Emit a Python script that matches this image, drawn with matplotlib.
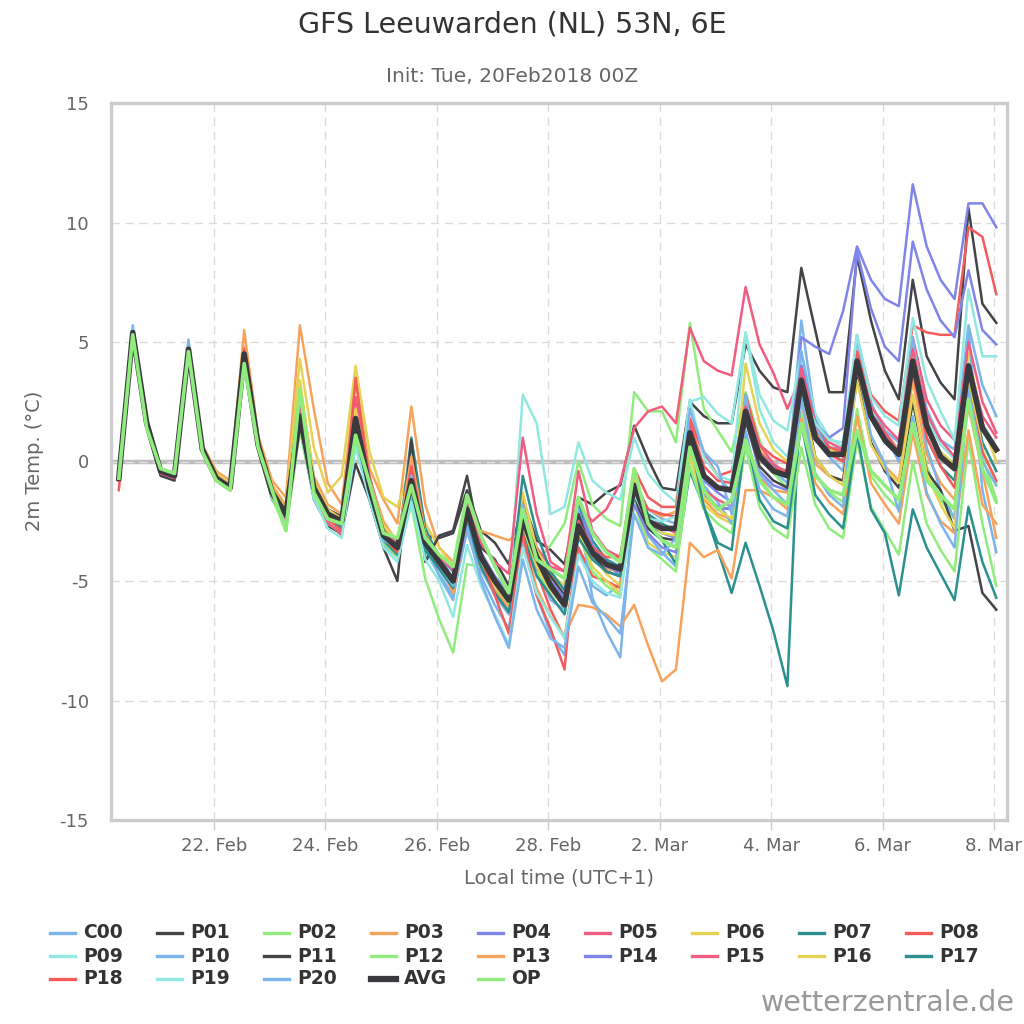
import matplotlib
matplotlib.use("Agg")
import matplotlib.pyplot as plt
from matplotlib.lines import Line2D
from datetime import datetime, timedelta

plt.rcParams['font.family'] = ['DejaVu Sans']
plt.rcParams['axes.unicode_minus'] = False

# 6-hourly steps, first step 20Feb 06Z = 07:00 local (UTC+1)
start = datetime(2018, 2, 20, 7)
step_hours = 6
n_steps = 64
times = [start + timedelta(hours=step_hours * i) for i in range(n_steps)]

c00 = [-0.8, 5.7, 1.9, -0.4, -0.6, 5.1, 0.6, -0.7, -1.0, 4.4, 0.6, -1.6, -2.5, 3.3, -1.3, -2.3,
       -2.8, 1.3, -1.4, -3.5, -3.9, -1.4, -3.8, -4.7, -5.6, -2.9, -4.8, -6.0, -7.0, -3.4, -5.6, -7.2,
       -8.1, -3.6, -5.2, -5.6, -5.1, -0.8, -2.0, -2.4, -2.6, 1.8, 0.4, -0.6, -1.3, 2.5, 0.3, -0.4,
       -0.9, 5.9, 1.8, 0.6, 0.5, 5.3, 2.4, 1.3, 0.8, 5.0, 2.2, 0.9, 0.5, 5.7, 3.2, 1.9]
p01 = [-0.7, 5.3, 1.7, -0.5, -0.7, 4.6, 0.6, -0.6, -1.1, 4.6, 0.8, -1.1, -2.0, 2.2, -0.8, -2.0,
       -2.3, 1.5, -1.0, -2.9, -3.3, -0.9, -3.1, -3.2, -3.0, -1.2, -2.9, -3.4, -4.3, -1.6, -3.3, -3.7,
       -4.3, -1.5, -1.8, -1.3, -1.0, 1.5, 0.1, -1.1, -1.2, 2.5, 1.9, 1.6, 1.6, 4.9, 3.8, 3.1,
       2.9, 8.1, 5.5, 2.9, 2.9, 8.6, 5.9, 3.8, 2.6, 7.6, 4.4, 3.3, 2.6, 10.6, 6.6, 5.8]
p02 = [-0.7, 5.3, 1.5, -0.4, -0.6, 4.7, 0.5, -0.7, -1.0, 4.3, 0.7, -1.2, -2.1, 2.4, -1.0, -2.1,
       -2.4, 1.4, -1.2, -3.1, -3.5, -1.2, -3.5, -4.3, -5.1, -2.2, -4.1, -5.0, -5.8, -2.8, -4.2, -3.5,
       -2.6, 0.0, -1.8, -2.4, -2.7, 2.9, 2.1, 2.1, 0.8, 5.8, 2.2, 1.3, 0.4, 2.9, 0.9, -0.5,
       -1.1, 2.1, -0.5, -1.3, -1.7, 2.2, -0.6, -1.4, -2.0, 2.6, -0.2, -1.6, -2.4, 3.2, 0.2, -1.6]
p03 = [-0.7, 5.4, 1.8, -0.3, -0.5, 4.8, 0.7, -0.4, -0.8, 5.5, 1.1, -0.8, -1.5, 5.7, 2.2, -0.9,
       -1.8, 3.4, -0.3, -1.6, -2.6, 2.3, -1.8, -3.6, -4.2, -2.9, -2.9, -3.1, -3.3, -2.9, -4.4, -4.9,
       -5.2, -2.0, -4.1, -4.5, -4.6, -1.0, -2.0, -2.3, -2.1, 0.4, -1.6, -2.2, -2.4, 1.0, -0.7, -1.2,
       -1.3, 2.5, -0.1, -0.6, -0.8, 3.6, 0.8, -0.2, -0.8, 3.4, 0.3, -0.9, -1.6, 2.3, -0.4, -3.2]
p04 = [-0.7, 5.4, 1.6, -0.4, -0.6, 4.8, 0.5, -0.7, -1.1, 4.6, 0.7, -1.3, -2.3, 2.0, -1.2, -2.4,
       -2.7, 1.5, -1.3, -3.2, -3.8, -1.0, -3.6, -4.5, -5.2, -2.5, -4.2, -5.3, -6.2, -2.2, -4.5, -5.4,
       -6.0, -2.0, -3.7, -4.4, -4.6, -1.1, -2.6, -3.0, -3.2, 1.4, -0.8, -1.3, -1.7, 1.8, -0.4, -1.0,
       -1.2, 5.2, 4.8, 4.5, 6.3, 9.0, 7.6, 6.8, 6.5, 11.6, 9.0, 7.6, 6.8, 10.8, 10.8, 9.8]
p05 = [-0.8, 5.3, 1.6, -0.4, -0.7, 4.6, 0.4, -0.8, -1.2, 4.5, 0.6, -1.4, -2.4, 1.8, -1.3, -2.5,
       -3.1, 0.8, -1.5, -3.3, -3.9, -1.4, -3.8, -4.5, -5.3, -2.5, -4.5, -5.5, -6.3, -1.5, -3.6, -4.4,
       -4.6, -1.9, -2.5, -2.0, -0.9, 1.4, 2.1, 2.3, 1.6, 5.6, 4.2, 3.8, 3.6, 7.3, 4.9, 3.7,
       2.2, 3.6, 1.4, 0.6, 0.2, 4.4, 2.4, 1.2, 0.5, 5.2, 2.6, 1.5, 0.9, 4.2, 1.9, 1.0]
p06 = [-0.7, 5.3, 1.7, -0.3, -0.5, 4.7, 0.6, -0.5, -0.9, 4.6, 0.8, -1.0, -1.8, 4.3, 0.6, -1.3,
       -0.6, 4.0, 0.4, -1.5, -1.9, -0.2, -2.6, -3.6, -4.4, -2.3, -4.1, -4.9, -5.5, -1.3, -3.7, -4.7,
       -5.2, -2.4, -3.9, -4.7, -5.2, -1.5, -3.4, -3.8, -4.0, 0.2, -1.8, -2.3, -2.6, 2.6, 0.6, -0.2,
       -0.6, 4.0, 1.2, 0.5, 0.3, 4.4, 2.0, 1.1, 0.5, 4.3, 1.4, 0.4, -0.1, 4.5, 1.6, 0.0]
p07 = [-0.7, 5.4, 1.7, -0.4, -0.6, 4.8, 0.6, -0.6, -1.0, 4.6, 0.8, -1.2, -2.1, 2.4, -1.0, -2.2,
       -2.7, 1.7, -1.3, -3.4, -3.8, 1.0, -2.8, -4.0, -4.9, -1.8, -3.9, -5.0, -5.9, -0.6, -3.0, -4.6,
       -5.4, -1.8, -3.3, -4.1, -4.4, -0.7, -2.8, -3.3, -4.3, -0.4, -1.9, -3.7, -5.5, -3.4, -5.2, -7.1,
       -9.4, 4.0, 1.6, 0.4, 0.0, 4.1, 1.8, 0.8, 0.2, 3.9, 1.0, -0.2, -0.8, 3.5, 0.8, -0.4]
p08 = [-1.2, 5.3, 1.6, -0.4, -0.7, 4.7, 0.5, -0.8, -1.2, 4.6, 0.6, -1.5, -2.5, 2.3, -1.4, -2.6,
       -3.0, 2.0, -1.0, -3.1, -3.7, -0.8, -3.5, -4.3, -5.1, -2.2, -4.0, -5.0, -5.9, -2.2, -4.6, -6.2,
       -7.4, -3.6, -4.8, -5.0, -5.3, -0.9, -2.0, -2.2, -2.3, 1.6, -0.2, -0.8, -0.9, 2.8, 0.7, 0.2,
       -0.1, 3.8, 1.3, 0.6, 0.4, 5.1, 2.8, 2.1, 1.7, 5.7, 5.4, 5.3, 5.3, 9.8, 9.4, 7.0]
p09 = [-0.7, 5.5, 1.8, -0.3, -0.5, 4.8, 0.6, -0.6, -1.0, 4.5, 0.8, -1.2, -2.4, 2.3, -1.4, -2.6,
       -2.9, 1.4, -1.4, -3.4, -3.9, -1.3, -3.8, -4.6, -5.3, -2.5, -4.3, -5.2, -5.8, 2.8, 1.6, -2.2,
       -1.9, 0.8, -0.8, -1.3, -1.6, 1.0, -0.5, -1.2, -1.7, 2.5, 2.7, 2.0, 1.6, 5.4, 2.8, 1.7,
       1.3, 4.6, 2.0, 1.0, 0.6, 4.6, 2.2, 1.1, 0.5, 5.0, 1.8, 0.7, 0.1, 4.1, 1.6, 0.6]
p10 = [-0.7, 5.4, 1.6, -0.4, -0.6, 4.8, 0.5, -0.7, -1.1, 4.5, 0.7, -1.4, -2.3, 1.7, -1.6, -2.7,
       -3.0, 0.9, -1.6, -3.5, -4.0, -1.1, -3.4, -4.8, -5.8, -2.2, -4.5, -5.6, -6.4, -1.8, -4.4, -5.8,
       -6.2, -2.0, -5.7, -7.1, -8.2, -1.5, -3.1, -3.8, -4.4, 1.3, -1.0, -1.7, -2.6, 2.8, -0.5, -1.2,
       -1.8, 4.6, 1.6, 0.2, -0.4, 5.1, 2.5, 1.1, 0.0, 5.2, 0.6, -1.2, -2.4, 5.6, -1.2, -3.8]
p11 = [-0.8, 5.2, 1.5, -0.6, -0.8, 4.5, 0.4, -0.8, -1.2, 4.4, 0.5, -1.5, -2.4, 1.4, -1.5, -2.7,
       -3.0, -0.1, -1.6, -3.6, -5.0, 0.9, -4.2, -3.1, -2.9, -0.6, -3.6, -4.1, -5.2, -2.3, -3.9, -4.8,
       -5.6, -2.2, -3.9, -4.6, -4.8, -1.6, -2.8, -3.2, -3.3, 0.8, -1.4, -1.9, -2.0, 1.7, -0.2, -0.8,
       -1.1, 3.0, 0.2, -0.6, -0.8, 3.5, 0.8, -0.4, -1.1, 2.5, -0.4, -1.2, -2.9, -2.7, -5.5, -6.2]
p12 = [-0.7, 5.3, 1.5, -0.4, -0.6, 4.6, 0.4, -0.8, -1.2, 4.2, 0.5, -1.5, -2.9, 1.3, -1.5, -2.6,
       -3.0, 1.0, -1.5, -3.4, -4.0, -1.8, -4.9, -6.6, -8.0, -4.3, -4.4, -5.3, -6.1, -2.7, -4.6, -5.4,
       -5.9, -3.0, -4.6, -5.2, -5.6, -1.7, -3.6, -4.1, -4.6, -0.2, -2.0, -2.6, -3.0, 0.6, -1.9, -2.8,
       -3.2, 0.6, -1.8, -2.8, -3.2, 0.9, -1.9, -2.9, -3.9, 0.0, -2.6, -3.7, -4.6, 0.9, -2.6, -5.2]
p13 = [-0.7, 5.3, 1.6, -0.3, -0.6, 4.7, 0.6, -0.6, -1.0, 4.8, 0.9, -1.0, -1.9, 3.2, -0.6, -1.8,
       -2.2, 2.2, -0.7, -2.5, -3.4, 0.2, -3.0, -4.2, -5.5, -2.6, -4.4, -5.4, -6.1, -3.1, -5.3, -6.5,
       -7.3, -6.0, -6.1, -6.4, -6.9, -6.0, -7.7, -9.2, -8.7, -3.4, -4.0, -3.7, -4.9, -1.2, -1.2, -1.5,
       -2.0, 1.8, -0.9, -1.7, -2.2, 1.9, -0.9, -1.8, -2.6, 1.2, -1.4, -2.5, -3.0, 1.3, -1.8, -2.6]
p14 = [-0.7, 5.4, 1.6, -0.4, -0.6, 4.7, 0.5, -0.7, -1.1, 4.5, 0.7, -1.3, -2.2, 2.6, -1.0, -2.1,
       -2.4, 1.7, -1.0, -3.0, -3.5, -0.9, -3.3, -4.0, -4.6, -1.8, -3.8, -4.8, -5.5, -2.3, -4.5, -5.0,
       -5.7, -1.5, -3.5, -4.2, -4.8, -1.8, -3.0, -3.6, -3.8, 1.0, -1.4, -1.9, -2.0, 2.3, 0.4, -0.2,
       -0.4, 4.0, 1.6, 1.0, 1.4, 8.8, 6.4, 4.8, 4.2, 9.2, 7.2, 5.9, 5.2, 8.0, 5.5, 4.9]
p15 = [-0.8, 5.2, 1.5, -0.5, -0.7, 4.7, 0.5, -0.8, -1.2, 4.5, 0.7, -1.4, -2.6, 2.4, -1.2, -2.6,
       -3.0, 2.7, -0.6, -2.8, -3.4, -0.9, -3.1, -4.0, -4.5, -1.8, -3.4, -4.2, -4.7, 1.0, -2.2, -4.2,
       -4.6, -0.4, -2.9, -3.7, -4.0, -0.8, -2.3, -2.7, -3.0, 0.4, -1.2, -1.6, -1.9, 2.3, 0.7, -0.1,
       -0.5, 3.9, 1.6, 0.8, 0.5, 4.6, 2.3, 1.5, 0.9, 4.7, 2.0, 0.9, 0.2, 5.0, 2.5, 1.2]
p16 = [-0.7, 5.4, 1.6, -0.4, -0.6, 4.7, 0.5, -0.7, -1.0, 4.6, 0.8, -1.2, -2.0, 3.4, -0.8, -2.0,
       -2.4, 2.2, -0.8, -2.7, -3.3, -0.5, -3.2, -4.1, -4.9, -2.1, -4.2, -5.2, -5.9, -2.6, -4.4, -5.4,
       -6.1, -2.9, -4.4, -5.0, -5.5, -0.6, -2.4, -3.0, -3.1, 0.3, -1.5, -2.0, -2.4, 4.1, 1.6, 0.5,
       0.0, 2.6, 0.2, -0.6, -1.0, 3.4, 0.7, -0.3, -0.9, 2.8, -0.5, -1.8, -2.8, 3.6, 0.5, -0.9]
p17 = [-0.7, 5.4, 1.6, -0.4, -0.6, 4.7, 0.5, -0.7, -1.1, 4.5, 0.7, -1.3, -2.3, 2.8, -1.1, -2.3,
       -2.8, 1.2, -1.5, -3.3, -3.9, -1.2, -3.7, -4.5, -5.3, -2.6, -4.4, -5.5, -6.3, -3.0, -4.8, -5.6,
       -6.4, -3.2, -4.1, -4.6, -4.8, -1.2, -2.2, -2.6, -2.9, 1.0, -1.9, -3.4, -3.7, 1.2, -1.6, -2.5,
       -2.8, 1.6, -1.4, -2.2, -2.8, 1.2, -2.0, -3.0, -5.6, -2.0, -3.6, -4.7, -5.8, -1.9, -4.2, -5.7]
p18 = [-0.8, 5.3, 1.6, -0.4, -0.6, 4.7, 0.5, -0.7, -1.0, 4.7, 0.7, -1.3, -2.2, 2.9, -1.2, -2.4,
       -2.9, 3.5, -0.9, -3.2, -3.8, -0.2, -3.2, -4.2, -4.9, -1.9, -4.0, -5.6, -7.2, -3.0, -5.6, -7.0,
       -8.7, -2.5, -3.6, -4.0, -4.0, -0.3, -1.5, -1.9, -1.9, 1.8, 0.3, -0.6, -0.4, 2.0, 0.4, -0.3,
       -0.4, 3.3, 0.9, 0.3, 0.0, 4.6, 2.0, 1.2, 0.4, 3.8, 1.0, -0.2, -1.1, 2.9, 0.4, -0.8]
p19 = [-0.7, 5.5, 1.7, -0.4, -0.6, 4.7, 0.6, -0.7, -1.1, 4.4, 0.7, -1.3, -2.7, 1.5, -1.5, -2.8,
       -3.2, 0.6, -1.6, -3.6, -4.2, -1.7, -4.1, -5.0, -6.5, -3.5, -5.2, -6.4, -7.7, -3.6, -5.5, -6.5,
       -7.4, -3.9, -5.0, -5.5, -5.7, -1.4, -2.4, -2.5, -2.3, 2.6, 0.2, -0.6, -0.8, 5.4, 2.2, 0.8,
       0.2, 3.0, 1.6, 0.9, 0.8, 5.3, 2.7, 1.9, 1.5, 6.0, 3.4, 2.1, 0.9, 7.2, 4.4, 4.4]
p20 = [-0.7, 5.4, 1.6, -0.4, -0.6, 4.6, 0.5, -0.7, -1.1, 4.5, 0.7, -1.3, -2.2, 1.9, -1.2, -2.3,
       -2.6, 1.6, -1.2, -3.3, -3.6, -0.6, -3.3, -4.3, -5.2, -2.7, -5.0, -6.5, -7.8, -4.1, -6.2, -7.4,
       -7.8, -4.4, -5.9, -6.5, -7.2, -2.2, -3.6, -3.9, -3.2, 2.2, 0.4, -0.2, -2.2, 1.3, -1.2, -2.0,
       -2.3, 2.7, -0.5, -1.4, -1.9, 4.2, 1.1, -0.1, -2.1, 1.9, -1.3, -2.6, -3.6, 3.0, 0.0, -1.0]
avg = [-0.7, 5.4, 1.6, -0.4, -0.6, 4.7, 0.5, -0.7, -1.1, 4.5, 0.7, -1.3, -2.2, 1.9, -1.1, -2.2,
       -2.5, 1.8, -1.1, -3.1, -3.6, -0.8, -3.4, -4.2, -5.0, -2.0, -4.0, -5.0, -5.8, -2.4, -4.0, -5.2,
       -6.0, -2.7, -3.8, -4.3, -4.5, -1.0, -2.5, -2.8, -2.8, 1.2, -0.6, -1.1, -1.2, 2.1, 0.2, -0.4,
       -0.6, 3.4, 1.0, 0.3, 0.3, 4.2, 1.9, 0.9, 0.3, 4.2, 1.5, 0.2, -0.3, 4.0, 1.4, 0.5]
op = [-0.7, 5.3, 1.4, -0.3, -0.5, 4.6, 0.4, -0.8, -1.2, 4.1, 0.6, -1.2, -2.9, 3.0, -1.3, -2.4,
      -2.6, 1.1, -0.9, -3.0, -3.2, -1.0, -3.2, -3.9, -4.4, -1.4, -3.1, -4.4, -5.5, -2.0, -4.1, -4.5,
      -4.9, -1.5, -3.0, -3.8, -4.2, -0.3, -2.6, -3.3, -3.6, 0.6, -1.2, -2.0, -1.6, 0.9, -0.8, -1.5,
      -1.8, 1.6, -0.6, -1.2, -1.4, 1.3, -0.4, -1.0, -1.6, 1.6, -0.8, -1.4, -2.0, 2.6, -0.3, -1.7]

names = ["C00", "P01", "P02", "P03", "P04", "P05", "P06", "P07", "P08", "P09",
         "P10", "P11", "P12", "P13", "P14", "P15", "P16", "P17", "P18", "P19", "P20", "AVG", "OP"]
values = [c00, p01, p02, p03, p04, p05, p06, p07, p08, p09,
          p10, p11, p12, p13, p14, p15, p16, p17, p18, p19, p20, avg, op]
palette = ["#7cb5ec", "#434348", "#90ed7d", "#f7a35c", "#8085e9",
           "#f15c80", "#e4d354", "#2b908f", "#f45b5b", "#91e8e1"]
colors = [palette[i % 10] for i in range(21)] + ["#3a3a3e", "#90ed7d"]
widths = [1.8] * 21 + [4.0, 2.6]

tick_days = [datetime(2018, 2, 22) + timedelta(days=2 * k) for k in range(8)]
tick_labels = [f"{d.day}. {d.strftime('%b')}" for d in tick_days]
y_ticks = [-15, -10, -5, 0, 5, 10, 15]

W = 1024.0
fig = plt.figure(figsize=(10.24, 10.24), dpi=100)
ax = fig.add_axes([111 / W, 1 - 820 / W, (1007 - 111) / W, (820 - 103) / W])

# zero plot line with the dashed grid line showing through
ax.axhline(0, color="#bdbdbd", lw=3.2, zorder=1)
ax.axhline(0, color="#e4e4e4", lw=1, linestyle=(0, (6, 4)), zorder=1.1)
for name, vals, col, lw in zip(names, values, colors, widths):
    ax.plot(times, vals, color=col, lw=lw, solid_joinstyle="round", zorder=2)

ax.set_xlim(datetime(2018, 2, 20, 3, 38), datetime(2018, 3, 8, 5, 36))
ax.set_ylim(-15, 15)
ax.set_xticks(tick_days)
ax.set_xticklabels(tick_labels)
ax.set_yticks(y_ticks)
ax.set_yticklabels([str(v) for v in y_ticks])
ax.grid(True, color="#dcdcdc", lw=1, linestyle=(0, (6, 4)))
ax.set_axisbelow(True)
ax.tick_params(axis="y", length=0, pad=16, labelsize=13, labelcolor="#666666")
ax.tick_params(axis="x", length=7, width=1, color="#cccccc", pad=5,
               labelsize=13, labelcolor="#666666")
for sp in ax.spines.values():
    sp.set_color("#cccccc")
    sp.set_linewidth(2.4)

fig.text(0.5, 1 - 25 / W, "GFS Leeuwarden (NL) 53N, 6E", ha="center", va="center",
         fontsize=20.5, color="#333333")
fig.text(0.5, 1 - 77 / W, "Init: Tue, 20Feb2018 00Z", ha="center", va="center",
         fontsize=14.5, color="#666666")
fig.text(35 / W, 1 - 461 / W, "2m Temp. (°C)", rotation=90, ha="center", va="center",
         fontsize=14, color="#666666")
fig.text(559 / W, 1 - 878 / W, "Local time (UTC+1)", ha="center", va="center",
         fontsize=14, color="#666666")

# legend, row by row like the original
for k, (name, col) in enumerate(zip(names, colors)):
    row, c = divmod(k, 9)
    x0 = 50 + 107 * c
    y0 = 933 + 23 * row
    lw = 4.5 if name == "AVG" else 2.4
    fig.add_artist(Line2D([x0 / W, (x0 + 25) / W], [1 - y0 / W, 1 - y0 / W],
                          color=col, lw=lw, transform=fig.transFigure))
    fig.text((x0 + 33) / W, 1 - y0 / W, name, ha="left", va="center",
             fontsize=13.5, fontweight="bold", color="#333333")

fig.text(1015 / W, 1 - 1003 / W, "wetterzentrale.de", ha="right", va="center",
         fontsize=20.5, color="#999999")

fig.savefig("out.png", dpi=100)
